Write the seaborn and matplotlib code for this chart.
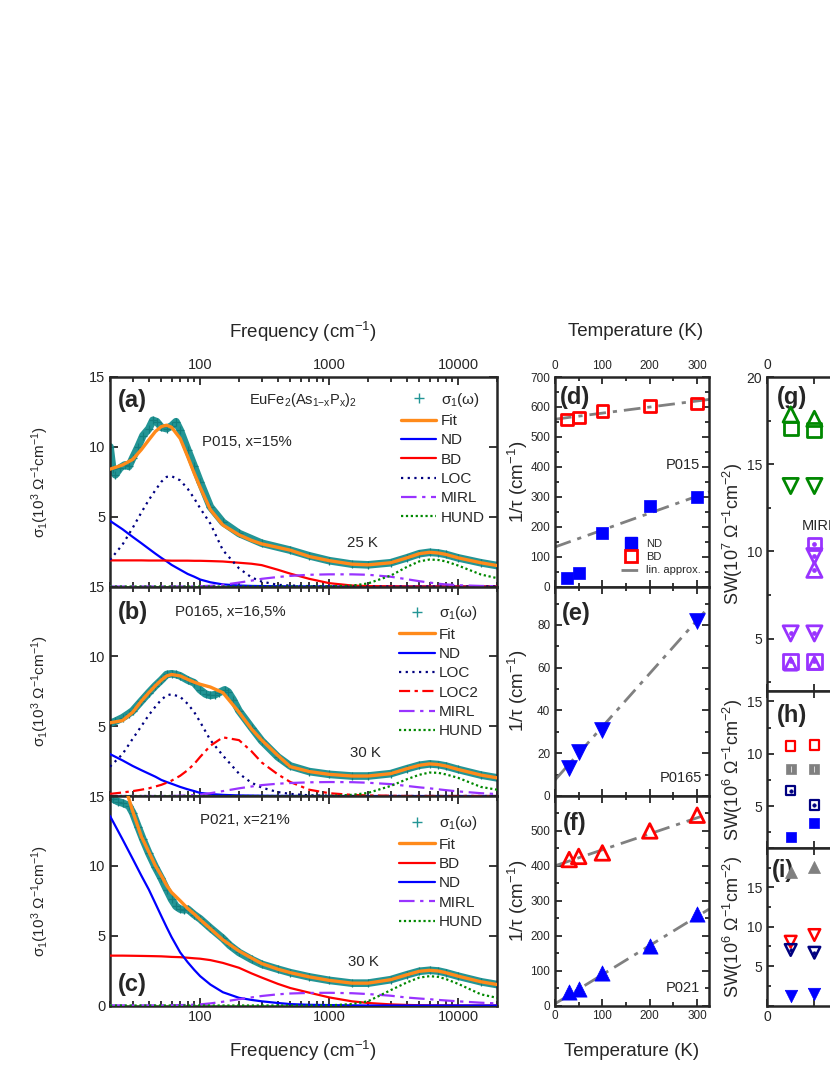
import numpy as np
import pandas as pd
import matplotlib
matplotlib.use('Agg')
import matplotlib.pyplot as plt
import seaborn as sns
from matplotlib.lines import Line2D
from matplotlib.ticker import MultipleLocator, LogLocator, NullFormatter, FuncFormatter, FixedLocator

# ---------------- data ----------------
F = [20, 25, 30, 35, 40, 45, 50, 55, 60, 70, 80, 90, 100, 120, 150, 200, 250, 300, 400, 500,
     700, 1000, 1500, 2000, 3000, 4000, 5000, 6000, 7000, 8000, 10000, 15000, 20000]

# panel (a) P015, 25 K  (units 10^3 Ohm^-1 cm^-1)
fit_a = [8.4, 8.7, 9.1, 9.8, 10.5, 11.1, 11.45, 11.55, 11.4, 10.6, 9.3, 8.1, 7.1, 5.5, 4.4, 3.7, 3.3, 3.05,
         2.8, 2.6, 2.15, 1.85, 1.6, 1.55, 1.7, 2.05, 2.35, 2.45, 2.4, 2.3, 2.05, 1.7, 1.5]
nd_a = [4.7, 4.1, 3.55, 3.1, 2.7, 2.35, 2.05, 1.8, 1.55, 1.2, 0.9, 0.7, 0.5, 0.3, 0.15, 0.07, 0.04, 0.03,
        0.02, 0.01, 0.01, 0, 0, 0, 0, 0, 0, 0, 0, 0, 0, 0, 0]
bd_a = [1.87, 1.87, 1.87, 1.87, 1.86, 1.86, 1.86, 1.86, 1.85, 1.85, 1.85, 1.84, 1.84, 1.82, 1.79, 1.7, 1.63,
        1.53, 1.2, 0.92, 0.55, 0.24, 0.07, 0.03, 0.01, 0, 0, 0, 0, 0, 0, 0, 0]
loc_a = [1.9, 3.0, 4.2, 5.3, 6.2, 6.9, 7.5, 7.85, 7.9, 7.6, 7.0, 6.3, 5.6, 4.5, 2.6, 1.3, 0.65, 0.35,
         0.12, 0.07, 0.03, 0.01, 0, 0, 0, 0, 0, 0, 0, 0, 0, 0, 0]
mirl_a = [0, 0, 0, 0, 0, 0, 0, 0, 0, 0, 0, 0.01, 0.02, 0.05, 0.12, 0.28, 0.42, 0.55, 0.68, 0.76, 0.84,
          0.87, 0.87, 0.84, 0.7, 0.52, 0.38, 0.28, 0.2, 0.15, 0.09, 0.04, 0.02]
hund_a = [0, 0, 0, 0, 0, 0, 0, 0, 0, 0, 0, 0, 0, 0, 0, 0, 0, 0, 0, 0, 0, 0.01, 0.06, 0.22, 0.78, 1.4,
          1.8, 1.93, 1.9, 1.8, 1.5, 0.86, 0.6]
data_fa = [20, 21, 22, 24, 26, 28, 30, 33, 36, 40, 43, 46, 50, 55, 60, 65, 70, 80, 90, 100, 120, 150, 200,
           300, 500, 700, 1000, 1500, 2000, 3000, 4000, 5000, 6000, 7000, 8000, 10000, 15000, 20000]
data_a = [10.0, 8.4, 8.0, 8.5, 8.7, 8.6, 9.2, 10.0, 10.8, 11.3, 11.9, 11.8, 11.4, 11.3, 11.5, 11.8, 11.2,
          9.8, 8.6, 7.5, 5.7, 4.6, 3.8, 3.1, 2.6, 2.2, 1.85, 1.6, 1.55, 1.7, 2.05, 2.35, 2.45, 2.4, 2.3,
          2.05, 1.7, 1.5]

# panel (b) P0165, 30 K
fit_b = [5.24, 5.4, 6.0, 6.8, 7.4, 7.9, 8.3, 8.6, 8.7, 8.6, 8.35, 8.15, 8.0, 7.8, 7.4, 6.0, 4.8, 4.0,
         2.9, 2.1, 1.75, 1.55, 1.43, 1.43, 1.6, 1.95, 2.2, 2.3, 2.25, 2.15, 1.9, 1.5, 1.3]
nd_b = [3.0, 2.55, 2.15, 1.85, 1.6, 1.38, 1.15, 1.0, 0.88, 0.65, 0.48, 0.35, 0.22, 0.14, 0.08, 0.04, 0.03,
        0.02, 0.01, 0.01, 0, 0, 0, 0, 0, 0, 0, 0, 0, 0, 0, 0, 0]
loc_b = [2.1, 3.0, 4.1, 5.0, 5.8, 6.4, 6.9, 7.2, 7.29, 7.1, 6.6, 6.0, 5.3, 4.0, 2.9, 1.6, 0.95, 0.6,
         0.28, 0.15, 0.05, 0.02, 0, 0, 0, 0, 0, 0, 0, 0, 0, 0, 0]
loc2_b = [0.15, 0.25, 0.35, 0.45, 0.55, 0.68, 0.8, 0.95, 1.1, 1.45, 1.85, 2.3, 2.8, 3.6, 4.2, 4.0, 3.2,
          2.4, 1.55, 1.0, 0.45, 0.2, 0.08, 0.04, 0.02, 0, 0, 0, 0, 0, 0, 0, 0]
mirl_b = [0, 0, 0, 0, 0, 0, 0, 0, 0, 0.02, 0.04, 0.07, 0.1, 0.2, 0.35, 0.55, 0.68, 0.78, 0.88, 0.93,
          0.98, 1.0, 0.99, 0.95, 0.85, 0.72, 0.62, 0.55, 0.48, 0.42, 0.33, 0.2, 0.14]
hund_b = [0, 0, 0, 0, 0, 0, 0, 0, 0, 0, 0, 0, 0, 0, 0, 0, 0, 0, 0, 0, 0, 0.01, 0.08, 0.22, 0.72, 1.2,
          1.52, 1.68, 1.66, 1.55, 1.3, 0.65, 0.45]
data_fb = [20, 22, 25, 28, 30, 35, 40, 45, 50, 55, 60, 65, 70, 80, 90, 100, 110, 120, 130, 140, 155, 165,
           180, 200, 250, 300, 400, 500, 700, 1000, 1500, 2000, 3000, 4000, 5000, 6000, 7000, 8000, 10000,
           15000, 20000]
data_b = [5.2, 5.35, 5.6, 5.9, 6.1, 6.8, 7.4, 7.9, 8.3, 8.7, 8.75, 8.7, 8.6, 8.3, 8.1, 7.6, 7.3, 7.2, 7.25,
          7.4, 7.6, 7.45, 6.9, 6.1, 4.9, 3.95, 2.8, 2.15, 1.75, 1.55, 1.43, 1.43, 1.6, 1.95, 2.2, 2.3, 2.25,
          2.15, 1.9, 1.5, 1.3]

# panel (c) P021, 30 K
fit_c = [18.0, 16.3, 13.9, 12.1, 11.0, 10.0, 9.3, 8.6, 8.1, 7.5, 6.95, 6.55, 6.15, 5.5, 4.7, 3.9, 3.4,
         3.0, 2.6, 2.35, 2.05, 1.8, 1.6, 1.6, 1.85, 2.2, 2.45, 2.52, 2.47, 2.35, 2.1, 1.7, 1.5]
nd_c = [13.57, 11.9, 10.5, 9.3, 8.3, 7.3, 6.4, 5.6, 4.9, 3.8, 3.1, 2.55, 2.1, 1.5, 0.95, 0.55, 0.4, 0.3,
        0.18, 0.1, 0.05, 0.03, 0.01, 0, 0, 0, 0, 0, 0, 0, 0, 0, 0]
bd_c = [3.57, 3.57, 3.56, 3.55, 3.54, 3.53, 3.52, 3.5, 3.48, 3.46, 3.42, 3.38, 3.35, 3.25, 3.05, 2.7, 2.3,
        2.0, 1.55, 1.25, 0.92, 0.58, 0.3, 0.18, 0.08, 0.04, 0.02, 0.01, 0.01, 0.01, 0, 0, 0]
mirl_c = [0.01, 0.01, 0.01, 0.01, 0.01, 0.01, 0.01, 0.02, 0.02, 0.03, 0.04, 0.06, 0.08, 0.15, 0.27, 0.45,
          0.58, 0.68, 0.8, 0.86, 0.9, 0.91, 0.88, 0.82, 0.7, 0.57, 0.5, 0.45, 0.4, 0.36, 0.3, 0.2, 0.15]
hund_c = [0, 0, 0, 0, 0, 0, 0, 0, 0, 0, 0, 0, 0, 0, 0, 0, 0, 0, 0, 0, 0, 0.01, 0.1, 0.3, 1.1, 1.65, 2.0,
          2.1, 2.05, 1.9, 1.55, 0.8, 0.55]
data_fc = [21, 23, 25, 28, 30, 33, 36, 40, 45, 50, 55, 60, 65, 70, 75, 80, 90, 100, 120, 150, 170, 200,
           250, 300, 400, 500, 700, 1000, 1500, 2000, 3000, 4000, 5000, 6000, 7000, 8000, 10000, 15000, 20000]
data_c = [14.8, 14.6, 14.5, 14.3, 13.8, 12.8, 11.9, 10.9, 9.9, 9.1, 8.3, 7.6, 7.1, 6.9, 6.85, 6.9, 6.5,
          6.2, 5.55, 4.8, 4.3, 3.8, 3.3, 2.95, 2.6, 2.35, 2.05, 1.8, 1.6, 1.6, 1.85, 2.2, 2.45, 2.52, 2.47,
          2.35, 2.1, 1.7, 1.5]

# panels (d)-(f): scattering rates vs temperature
T_d = [25, 50, 100, 200, 300]
nd_d = [30, 45, 180, 268, 300]
bd_d = [558, 565, 587, 603, 612]
T_e = [30, 50, 100, 300]
nd_e = [13, 20.5, 31, 82]
T_f = [30, 50, 100, 200, 300]
bd_f = [418, 427, 437, 500, 545]
nd_f = [38, 48, 93, 170, 262]
lin_T = [0, 325]
lin_bd_d = [559, 625]
lin_nd_d = [132, 316]
lin_nd_e = [7.5, 88.5]
lin_bd_f = [400, 549]
lin_nd_f = [5, 276]

# panels (g)-(i): spectral weights
T_sw = [50, 100]
g_up = [17.85, 17.6]
g_sq = [17.05, 16.95]
g_dn = [13.75, 13.75]
p_sq_hi = [10.44]
p_dn_hi = [9.73]
p_up_hi = [8.95]
p_dn_lo = [5.3, 5.3]
p_sq_lo = [3.7, 3.7]
p_up_lo = [3.55, 3.6]
h_red = [10.75, 10.84]
h_gray = [8.52, 8.52]
h_navy = [6.48, 5.1]
h_blue = [2.03, 3.42]
i_gray = [17.0, 17.63]
i_red = [8.1, 8.95]
i_navy = [7.05, 6.7]
i_blue = [1.2, 1.5]

# ---------------- style ----------------
sns.set_style('ticks')
plt.rcParams['font.family'] = ['Liberation Sans', 'DejaVu Sans']
plt.rcParams['mathtext.fontset'] = 'custom'
plt.rcParams['mathtext.rm'] = 'Liberation Sans'
plt.rcParams['mathtext.it'] = 'Liberation Sans:italic'
plt.rcParams['mathtext.bf'] = 'Liberation Sans:bold'
plt.rcParams['mathtext.default'] = 'regular'
plt.rcParams['axes.linewidth'] = 1.8

TEAL = '#239595'
TEAL_DARK = '#137e7e'
ORANGE = '#ff8a1a'
BLUE = '#0000ff'
RED = '#ff0000'
NAVY = '#000080'
PURPLE = '#9933ff'
GREEN = '#008800'
GRAY = '#808080'

fig = plt.figure(figsize=(8.3, 10.75), dpi=100)


def rect(l, t, r, b):
    return [l / 830, 1 - b / 1075, (r - l) / 830, (b - t) / 1075]


def line(ax, x, y, color, ls='-', lw=1.5, z=3):
    sns.lineplot(x=x, y=y, ax=ax, color=color, linestyle=ls, linewidth=lw, estimator=None,
                 sort=False, legend=False, zorder=z)
    return ax.lines[-1]


def pts(ax, x, y, marker, color, s, filled=True, lw=1.8, z=4):
    if filled:
        sns.scatterplot(x=x, y=y, ax=ax, marker=marker, s=s, facecolor=color, edgecolor=color,
                        linewidth=0.5, legend=False, zorder=z)
    else:
        sns.scatterplot(x=x, y=y, ax=ax, marker=marker, s=s, facecolor='none', edgecolor=color,
                        linewidth=lw, legend=False, zorder=z)


LOC_LS = (0, (1, 2))
HUND_LS = (0, (1, 1.2))
MIRL_LS = (0, (7, 2.5, 1.5, 2.5))
LOC2_LS = (0, (5, 2, 1.5, 2))

tops = [377, 586.5, 796, 1005.5]
left_axes = [fig.add_axes(rect(110, tops[i], 497, tops[i + 1])) for i in range(3)]
mid_axes = [fig.add_axes(rect(555, tops[i], 709, tops[i + 1])) for i in range(3)]
ax_g = fig.add_axes(rect(767, 377, 921, 691))
ax_h = fig.add_axes(rect(767, 691, 921, 848))
ax_i = fig.add_axes(rect(767, 848, 921, 1005.5))

comp = {
    'a': [('ND', nd_a, BLUE, '-'), ('BD', bd_a, RED, '-'), ('LOC', loc_a, NAVY, LOC_LS),
          ('MIRL', mirl_a, PURPLE, MIRL_LS), ('HUND', hund_a, GREEN, HUND_LS)],
    'b': [('ND', nd_b, BLUE, '-'), ('LOC', loc_b, NAVY, LOC_LS), ('LOC2', loc2_b, RED, LOC2_LS),
          ('MIRL', mirl_b, PURPLE, MIRL_LS), ('HUND', hund_b, GREEN, HUND_LS)],
    'c': [('BD', bd_c, RED, '-'), ('ND', nd_c, BLUE, '-'),
          ('MIRL', mirl_c, PURPLE, MIRL_LS), ('HUND', hund_c, GREEN, HUND_LS)],
}
fits = {'a': fit_a, 'b': fit_b, 'c': fit_c}
datas = {'a': (data_fa, data_a), 'b': (data_fb, data_b), 'c': (data_fc, data_c)}
leg_anchor = {'a': (0.752, 0.935), 'b': (0.748, 0.915), 'c': (0.748, 0.912)}

for key, ax in zip('abc', left_axes):
    ax.set_xscale('log')
    ax.set_xlim(20, 20000)
    ax.set_ylim(0, 15)
    df, dv = datas[key]
    sns.lineplot(x=df, y=dv, ax=ax, color=TEAL, linewidth=5.5, estimator=None, sort=False,
                 legend=False, zorder=2, marker='+', markersize=6, markeredgecolor=TEAL_DARK,
                 markeredgewidth=0.9)
    handles = [Line2D([], [], color=TEAL, marker='+', linestyle='none', markersize=7,
                      markeredgewidth=1.0)]
    labels = [r'σ$_1$(ω)']
    comp_handles = []
    for name, vals, col, ls in comp[key]:
        h = line(ax, F, vals, col, ls=ls, lw=1.6, z=3)
        comp_handles.append((name, h))
    hf = line(ax, F, fits[key], ORANGE, lw=2.4, z=5)
    handles.append(hf)
    labels.append('Fit')
    for name, h in comp_handles:
        handles.append(h)
        labels.append(name)
    ax.legend(handles, labels, loc='upper left', bbox_to_anchor=leg_anchor[key], frameon=False,
              fontsize=11, handlelength=2.3, handletextpad=0.3, labelspacing=0.35, borderpad=0,
              borderaxespad=0)
    ax.set_xlabel('')
    ax.set_ylabel(r'σ$_1$(10$^3$ Ω$^{-1}$cm$^{-1}$)', fontsize=11)
    ax.yaxis.set_label_coords(-0.153, 0.5)
    ax.xaxis.set_major_locator(LogLocator(base=10, numticks=10))
    ax.xaxis.set_minor_locator(LogLocator(base=10, subs=np.arange(2, 10), numticks=100))
    ax.xaxis.set_minor_formatter(NullFormatter())
    ax.xaxis.set_major_formatter(FuncFormatter(lambda v, p: f'{v:g}'))
    ax.yaxis.set_major_locator(FixedLocator([0, 5, 10, 15]))
    if key == 'c':
        ax.yaxis.set_major_formatter(FuncFormatter(lambda v, p: f'{v:g}'))
    else:
        ax.yaxis.set_major_formatter(FuncFormatter(lambda v, p: '' if v == 0 else f'{v:g}'))
    ax.tick_params(which='both', direction='in', top=True, right=True, labelsize=10.5, width=1.3,
                   labeltop=(key == 'a'), labelbottom=(key == 'c'))
    ax.tick_params(which='major', length=6)
    ax.tick_params(which='minor', length=3.5)
    for sp in ax.spines.values():
        sp.set_linewidth(1.8)

ax_a, ax_b, ax_c = left_axes
ax_a.text(0.021, 0.89, '(a)', transform=ax_a.transAxes, fontsize=17, fontweight='bold', va='center')
ax_a.text(0.50, 0.89, r'EuFe$_2$(As$_{1\mathrm{-x}}$P$_\mathrm{x}$)$_2$', transform=ax_a.transAxes,
          fontsize=10.5, ha='center', va='center')
ax_a.text(0.238, 0.69, 'P015, x=15%', transform=ax_a.transAxes, fontsize=10.8, va='center')
ax_a.text(0.612, 0.208, '25 K', transform=ax_a.transAxes, fontsize=10.8, va='center')
ax_b.text(0.021, 0.878, '(b)', transform=ax_b.transAxes, fontsize=17, fontweight='bold', va='center')
ax_b.text(0.168, 0.878, 'P0165, x=16,5%', transform=ax_b.transAxes, fontsize=10.8, va='center')
ax_b.text(0.62, 0.205, '30 K', transform=ax_b.transAxes, fontsize=10.8, va='center')
ax_c.text(0.233, 0.885, 'P021, x=21%', transform=ax_c.transAxes, fontsize=10.8, va='center')
ax_c.text(0.615, 0.208, '30 K', transform=ax_c.transAxes, fontsize=10.8, va='center')
ax_c.text(0.021, 0.098, '(c)', transform=ax_c.transAxes, fontsize=17, fontweight='bold', va='center')

# ---------------- middle panels ----------------
ax_d, ax_e, ax_f = mid_axes
LIN_LS = (0, (6, 2.5, 1.5, 2.5))
line(ax_d, lin_T, lin_bd_d, GRAY, ls=LIN_LS, lw=2.0, z=2)
line(ax_d, lin_T, lin_nd_d, GRAY, ls=LIN_LS, lw=2.0, z=2)
pts(ax_d, T_d, nd_d, 's', BLUE, 80)
pts(ax_d, T_d, bd_d, 's', RED, 70, filled=False, lw=2.0)
line(ax_e, lin_T, lin_nd_e, GRAY, ls=LIN_LS, lw=2.0, z=2)
pts(ax_e, T_e, nd_e, 'v', BLUE, 130)
line(ax_f, lin_T, lin_bd_f, GRAY, ls=LIN_LS, lw=2.0, z=2)
line(ax_f, lin_T, lin_nd_f, GRAY, ls=LIN_LS, lw=2.0, z=2)
pts(ax_f, T_f, bd_f, '^', RED, 110, filled=False, lw=2.0)
pts(ax_f, T_f, nd_f, '^', BLUE, 120)

leg_h = [Line2D([], [], marker='s', color=BLUE, linestyle='none', markersize=9),
         Line2D([], [], marker='s', color=RED, markerfacecolor='none', markeredgewidth=2,
                linestyle='none', markersize=8),
         Line2D([], [], color=GRAY, linestyle=LIN_LS, linewidth=2.0)]
ax_d.legend(leg_h, ['ND', 'BD', 'lin. approx.'], loc='upper left', bbox_to_anchor=(0.43, 0.228),
            frameon=False, fontsize=8, handlelength=1.8, handletextpad=0.4, labelspacing=0.3,
            borderpad=0, borderaxespad=0, numpoints=1)

ylims = [(0, 700), (0, 98), (0, 600)]
majors = [100, 20, 100]
minors = [50, 10, 50]
hide_top = [None, None, 600]
for i, ax in enumerate(mid_axes):
    ax.set_xlim(0, 325)
    ax.set_ylim(*ylims[i])
    ax.xaxis.set_major_locator(MultipleLocator(100))
    ax.xaxis.set_minor_locator(MultipleLocator(50))
    ax.yaxis.set_major_locator(MultipleLocator(majors[i]))
    ax.yaxis.set_minor_locator(MultipleLocator(minors[i]))
    ht = hide_top[i]
    ax.yaxis.set_major_formatter(FuncFormatter(lambda v, p, ht=ht: '' if (ht is not None and v >= ht) else f'{v:g}'))
    ax.set_xlabel('')
    ax.set_ylabel(r'1/τ (cm$^{-1}$)', fontsize=13.5)
    ax.yaxis.set_label_coords(-0.165, 0.5)
    ax.tick_params(which='both', direction='in', top=True, right=True, labelsize=8.5, width=1.3,
                   labeltop=(i == 0), labelbottom=(i == 2))
    ax.tick_params(which='major', length=5)
    ax.tick_params(which='minor', length=3)
    for sp in ax.spines.values():
        sp.set_linewidth(1.8)

ax_d.text(0.032, 0.9, '(d)', transform=ax_d.transAxes, fontsize=17, fontweight='bold', va='center')
ax_d.text(0.94, 0.578, 'P015', transform=ax_d.transAxes, fontsize=10.5, va='center', ha='right')
ax_e.text(0.045, 0.873, '(e)', transform=ax_e.transAxes, fontsize=17, fontweight='bold', va='center')
ax_e.text(0.955, 0.084, 'P0165', transform=ax_e.transAxes, fontsize=10.5, va='center', ha='right')
ax_f.text(0.052, 0.871, '(f)', transform=ax_f.transAxes, fontsize=17, fontweight='bold', va='center')
ax_f.text(0.94, 0.083, 'P021', transform=ax_f.transAxes, fontsize=10.5, va='center', ha='right')

# ---------------- right panels ----------------
pts(ax_g, T_sw, g_up, '^', GREEN, 120, filled=False, lw=2.0)
pts(ax_g, T_sw, g_sq, 's', GREEN, 100, filled=False, lw=2.0)
pts(ax_g, T_sw, g_dn, 'v', GREEN, 120, filled=False, lw=2.0)
pts(ax_g, [T_sw[1]], p_sq_hi, 's', PURPLE, 80, filled=False, lw=2.0)
pts(ax_g, [T_sw[1]], p_dn_hi, 'v', PURPLE, 120, filled=False, lw=2.0)
pts(ax_g, [T_sw[1]], p_up_hi, '^', PURPLE, 120, filled=False, lw=2.0)
pts(ax_g, T_sw, p_dn_lo, 'v', PURPLE, 120, filled=False, lw=2.0)
pts(ax_g, T_sw, p_sq_lo, 's', PURPLE, 110, filled=False, lw=2.0)
pts(ax_g, T_sw, p_up_lo, '^', PURPLE, 80, filled=False, lw=2.0)
for yy in [p_sq_hi, p_dn_hi, p_up_hi]:
    pts(ax_g, [T_sw[1]], yy, 'o', PURPLE, 8)
for yy in [p_dn_lo, p_sq_lo]:
    pts(ax_g, T_sw, yy, 'o', PURPLE, 8)
ax_g.text(74, 11.43, 'MIRL', fontsize=10.5, va='center')

pts(ax_h, T_sw, h_red, 's', RED, 45, filled=False, lw=1.6)
pts(ax_h, T_sw, h_gray, 's', GRAY, 55)
pts(ax_h, T_sw, h_gray, '|', 'white', 20)
pts(ax_h, T_sw, h_navy, 's', NAVY, 45, filled=False, lw=1.6)
pts(ax_h, T_sw, h_navy, 'o', NAVY, 6)
pts(ax_h, T_sw, h_blue, 's', BLUE, 55)

pts(ax_i, T_sw, i_gray, '^', GRAY, 75)
pts(ax_i, T_sw, i_red, 'v', RED, 70, filled=False, lw=1.8)
pts(ax_i, T_sw, i_navy, 'v', NAVY, 70, filled=False, lw=1.8)
pts(ax_i, T_sw, i_navy, 'o', NAVY, 6)
pts(ax_i, T_sw, i_blue, 'v', BLUE, 80)

r_ylims = [(2, 20), (1, 16), (0, 20)]
r_show = [[5, 10, 15, 20], [5, 10, 15], [5, 10, 15]]
r_lab = [r'SW(10$^7$ Ω$^{-1}$cm$^{-2}$)', r'SW(10$^6$ Ω$^{-1}$cm$^{-2}$)', r'SW(10$^6$ Ω$^{-1}$cm$^{-2}$)']
for i, ax in enumerate([ax_g, ax_h, ax_i]):
    ax.set_xlim(0, 325)
    ax.set_ylim(*r_ylims[i])
    ax.xaxis.set_major_locator(MultipleLocator(100))
    ax.xaxis.set_major_formatter(FuncFormatter(lambda v, p: '0' if abs(v) < 1e-9 else ''))
    ax.yaxis.set_major_locator(MultipleLocator(5))
    ax.yaxis.set_minor_locator(MultipleLocator(2.5))
    shown = r_show[i]
    ax.yaxis.set_major_formatter(FuncFormatter(lambda v, p, s=shown: f'{v:g}' if v in s else ''))
    ax.set_xlabel('')
    ax.set_ylabel(r_lab[i], fontsize=13)
    ax.yaxis.set_label_coords(-0.14, 0.5)
    ax.tick_params(which='both', direction='in', top=True, right=True, labelsize=10, width=1.3,
                   labeltop=(i == 0), labelbottom=(i == 2))
    ax.tick_params(which='major', length=5)
    ax.tick_params(which='minor', length=3)
    for sp in ax.spines.values():
        sp.set_linewidth(1.8)

ax_g.text(0.065, 0.936, '(g)', transform=ax_g.transAxes, fontsize=17, fontweight='bold', va='center')
ax_h.text(0.065, 0.847, '(h)', transform=ax_h.transAxes, fontsize=17, fontweight='bold', va='center')
ax_i.text(0.03, 0.86, '(i)', transform=ax_i.transAxes, fontsize=17, fontweight='bold', va='center')

# axis titles
fig.text(303 / 830, 1 - 332 / 1075, r'Frequency (cm$^{-1}$)', fontsize=13.5, ha='center', va='center')
fig.text(303 / 830, 1 - 1051 / 1075, r'Frequency (cm$^{-1}$)', fontsize=13.5, ha='center', va='center')
fig.text(636 / 830, 1 - 332 / 1075, 'Temperature (K)', fontsize=13.5, ha='center', va='center')
fig.text(632 / 830, 1 - 1052 / 1075, 'Temperature (K)', fontsize=13.5, ha='center', va='center')

fig.savefig('out.png', dpi=100)
